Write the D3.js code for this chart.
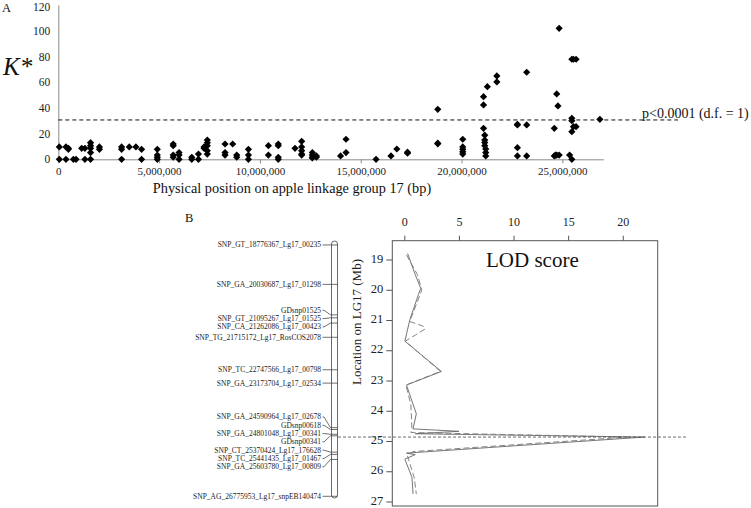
<!DOCTYPE html>
<html><head><meta charset="utf-8">
<script src="https://cdn.jsdelivr.net/npm/d3@7"></script>
<style>
body{margin:0;background:#fff}
svg{display:block;font-family:"Liberation Serif","Times New Roman",serif}
</style>
</head><body>
<svg id="c" width="751" height="508"></svg>
<script>
// ---------- Panel A data: physical position (bp) and K* ----------
const kPos = [
  50000,50000, 380000,380000, 500000,500000, 750000, 880000, 1160000, 1320000,1320000,
  1600000,1600000,1600000,1600000,1600000, 2040000,2040000, 3140000,3140000,3140000,
  3520000, 3850000, 4130000,4130000, 4910000,4910000,4910000,4910000,
  5700000,5700000,5700000,5700000, 5990000,5990000,5990000, 6620000,6620000, 6950000,6950000,
  7230000,7230000, 7390000,7390000,7390000,7390000,7390000, 8270000,8270000,8270000,
  8650000, 8850000,8850000, 9430000,9430000,9430000, 10420000,10420000,
  10910000,10910000,10910000,10910000, 11740000, 12070000,12070000,12070000,12070000,12070000,
  12600000,12600000,12600000,12600000, 12800000,12800000, 14000000, 14270000,14270000,
  15760000, 16500000, 16790000, 17320000,17320000, 18820000,18820000,18820000,
  20060000,20060000,20060000,20060000,20060000, 21090000,21090000,21090000,
  21150000,21150000,21150000,21150000, 21200000,21200000,21200000, 21280000,
  21750000,21750000, 22770000,22770000,22770000,22770000, 23230000,23230000,23230000,
  24600000,24600000, 24660000, 24720000,24720000, 24780000, 24840000,24840000,
  25360000, 25470000,25470000,25470000,25470000,25470000, 25550000,25550000,
  25680000,25680000, 26860000
];
const kVal = [
  9.6,0, 9.6,0, 8.5,7.8, 0, 0, 8.5, 8.5,0,
  12.9,10.6,8.5,5.2,0, 9.6,7.8, 9.6,7.8,0,
  9.6, 9.6, 7.8,0, 7.8,3.3,1.6,0,
  11.9,10.6,3.3,1.6, 5.2,3.3,0, 1.6,0, 4.1,0,
  9.6,8.5, 15,12.9,10.6,6.7,4.1, 11.9,5.2,3.3,
  11.9, 3.3,1.6, 7.8,3.3,0, 10.6,3.3,
  11.9,10.6,1.6,0, 8.5, 14,9.6,6.7,4.1,3.3,
  5.2,3.3,1.6,1.0, 2.6,1.6, 2.6, 15.6,5.2,
  0, 2.6, 8.0, 5.5,4.8, 38.9,12.5,12,
  15.6,9.6,7.8,5.8,4.1, 48.7,42.3,24.1,
  18.8,15,13,10.6, 8,5.2,2.6, 56.5,
  64.8,60.2, 27.2,26.7,9,2.6, 67.7,26.7,2.6,
  2.6,24.1, 3.3, 50.8,3.3, 41.5, 101.9,3.3,
  3.3, 77.8,31.9,30,21.5,0, 77.8,25.4,
  77.8,25.4, 31.1
];
const kThreshold = 30.6;
const kThresholdLabel = "p<0.0001 (d.f. = 1)";
const xTicksA = [0, 5000000, 10000000, 15000000, 20000000, 25000000];
const yTicksA = [0, 20, 40, 60, 80, 100, 120];

// ---------- Panel B data: markers (name, Mb) ----------
const markerNames = [
  "SNP_GT_18776367_Lg17_00235","SNP_GA_20030687_Lg17_01298","GDsnp01525",
  "SNP_GT_21095267_Lg17_01525","SNP_CA_21262086_Lg17_00423","SNP_TG_21715172_Lg17_RosCOS2078",
  "SNP_TC_22747566_Lg17_00798","SNP_GA_23173704_Lg17_02534","SNP_GA_24590964_Lg17_02678",
  "GDsnp00618","SNP_GA_24801048_Lg17_00341","GDsnp00341",
  "SNP_CT_25370424_Lg17_176628","SNP_TC_25441435_Lg17_01467","SNP_GA_25603780_Lg17_00809",
  "SNP_AG_26775953_Lg17_snpEB140474"
];
const markerMb = [18.776, 20.031, 21.0, 21.095, 21.262, 21.715, 22.748, 23.174, 24.591,
  24.65, 24.801, 24.85, 25.370, 25.441, 25.604, 26.776];

// LOD curves (Mb, LOD)
const lodSolidMb  = [18.8,19.5,19.95,20.15,21.0,21.7,22.7,23.15,24.1,24.6,24.68,24.76,24.87,25.4,25.45,25.6,26.2,26.75];
const lodSolidVal = [0.3,1.0,1.5,1.3,0.5,0.05,3.4,0.2,1.1,0.8,5.0,1.0,22.0,0.2,1.0,0.05,0.7,0.8];
const lodDashMb   = [18.85,19.5,20.0,20.2,21.05,21.2,21.3,21.5,21.7,22.7,23.15,23.8,24.6,24.72,24.87,25.35,25.5,26.2,26.75];
const lodDashVal  = [0.2,1.2,1.6,1.4,0.5,1.7,1.9,1.0,0.1,3.3,0.15,0.6,0.7,0.6,20.5,0.8,0.3,0.9,1.1];
const lodPeakMb = 24.87;
const lodXTicks = [0,5,10,15,20];
const lodYTicks = [19,20,21,22,23,24,25,26,27];

const svg = d3.select("#c");
const axisCol = "#8a8a8a";
const serif = '"Liberation Serif","Times New Roman",serif';

// ================= Panel A =================
const xA = d3.scaleLinear().domain([0, 27030000]).range([58.3, 603.3]);
const yA = d3.scaleLinear().domain([0, 120]).range([159.3, 5]);
const gA = svg.append("g");

const xAxA = gA.append("g").attr("transform", `translate(0,${yA(0)})`)
  .call(d3.axisBottom(xA).tickValues(xTicksA).tickSize(4).tickPadding(4)
    .tickFormat(d3.format(",")).tickSizeOuter(0));
xAxA.select(".domain").attr("stroke", axisCol);
xAxA.selectAll(".tick line").attr("stroke", axisCol);
xAxA.selectAll("text").attr("font-size", 11).attr("fill", "#222").attr("font-family", serif);

const yAxA = gA.append("g").attr("transform", `translate(${xA(0)},0)`)
  .call(d3.axisLeft(yA).tickValues(yTicksA).tickSize(0).tickPadding(8).tickSizeOuter(0));
yAxA.select(".domain").attr("stroke", axisCol);
yAxA.selectAll("text").attr("font-size", 11.5).attr("fill", "#222").attr("font-family", serif)
  .attr("dy", d => d === 120 ? "0.47em" : "0.32em");

gA.append("line").attr("x1", xA(0)).attr("x2", 678)
  .attr("y1", yA(kThreshold)).attr("y2", yA(kThreshold))
  .attr("stroke", "#111").attr("stroke-width", 1).attr("stroke-dasharray", "4,3");
gA.append("text").attr("x", 642).attr("y", yA(kThreshold) - 1.5)
  .attr("font-size", 14).attr("fill", "#111").text(kThresholdLabel);

const diamond = d3.symbol().type(d3.symbolSquare).size(26);
gA.append("g").selectAll("path").data(kPos.map((p, i) => [p, kVal[i]])).join("path")
  .attr("d", diamond)
  .attr("transform", d => `translate(${xA(d[0])},${yA(d[1])}) rotate(45)`)
  .attr("fill", "#000");

gA.append("text").attr("x", 292).attr("y", 193).attr("text-anchor", "middle")
  .attr("font-size", 14.3).attr("fill", "#111")
  .text("Physical position on apple linkage group 17 (bp)");
gA.append("text").attr("x", 3).attr("y", 75).attr("font-size", 25)
  .attr("font-style", "italic").attr("fill", "#111").text("K*");
gA.append("text").attr("x", 2).attr("y", 12).attr("font-size", 12.5).attr("fill", "#111").text("A");

// ================= Panel B: chromosome =================
svg.append("text").attr("x", 185).attr("y", 222).attr("font-size", 12.5).attr("fill", "#111").text("B");

const yChr = d3.scaleLinear().domain([18.65, 26.83]).range([241, 498]);
const barX0 = 331.5, barX1 = 337.5;
svg.append("rect").attr("x", barX0).attr("y", yChr(18.65)).attr("width", barX1 - barX0)
  .attr("height", yChr(26.83) - yChr(18.65)).attr("rx", 3).attr("ry", 3)
  .attr("fill", "#fff").attr("stroke", "#444").attr("stroke-width", 0.8);

// label layout: clusters with min gap
function layoutLabels(ys, gap) {
  let groups = ys.map((y, i) => ({ idx: [i], ideal: [y] }));
  const place = g => { g.start = d3.mean(g.ideal) - (g.idx.length - 1) * gap / 2; };
  groups.forEach(place);
  let changed = true;
  while (changed) {
    changed = false;
    for (let i = 0; i < groups.length - 1; i++) {
      const a = groups[i], b = groups[i + 1];
      if (a.start + (a.idx.length - 1) * gap + gap > b.start) {
        const m = { idx: a.idx.concat(b.idx), ideal: a.ideal.concat(b.ideal) };
        place(m); groups.splice(i, 2, m); changed = true; break;
      }
    }
  }
  const out = [];
  groups.forEach(g => g.idx.forEach((id, k) => out[id] = g.start + k * gap));
  return out;
}
const barYs = markerMb.map(m => yChr(m));
const labYs = layoutLabels(barYs, 8.3);
const labEnd = 321;
const gM = svg.append("g");
markerNames.forEach((name, i) => {
  gM.append("text").attr("x", labEnd).attr("y", labYs[i]).attr("dy", "0.33em")
    .attr("text-anchor", "end").attr("font-size", 7.5).attr("fill", "#222").text(name);
  gM.append("path")
    .attr("d", `M${labEnd + 1.5},${labYs[i]} L${labEnd + 3},${labYs[i]} L${barX0 - 1},${barYs[i]} L${barX1},${barYs[i]}`)
    .attr("fill", "none").attr("stroke", "#333").attr("stroke-width", 0.7);
});

// ================= Panel B: LOD =================
const xL = d3.scaleLinear().domain([-1.1, 23.2]).range([392.3, 657.7]);
const yL = d3.scaleLinear().domain([19, 27]).range([259.5, 501.5]);
const frameTop = 240.7, frameBot = 506;

svg.append("rect").attr("x", xL(-1.1)).attr("y", frameTop)
  .attr("width", xL(23.2) - xL(-1.1)).attr("height", frameBot - frameTop)
  .attr("fill", "none").attr("stroke", "#555").attr("stroke-width", 1);

const axT = svg.append("g").attr("transform", `translate(0,${frameTop})`)
  .call(d3.axisTop(xL).tickValues(lodXTicks).tickSize(5).tickPadding(10).tickSizeOuter(0));
axT.select(".domain").remove();
axT.selectAll(".tick line").attr("stroke", "#555");
axT.selectAll("text").attr("font-size", 12).attr("fill", "#222").attr("font-family", serif);

const axL = svg.append("g").attr("transform", `translate(${xL(-1.1)},0)`)
  .call(d3.axisLeft(yL).tickValues(lodYTicks).tickSize(6).tickPadding(3).tickSizeOuter(0));
axL.select(".domain").remove();
axL.selectAll(".tick line").attr("stroke", "#555");
axL.selectAll("text").attr("font-size", 12.5).attr("fill", "#222").attr("dy", "0.2em")
  .attr("font-family", serif);

svg.append("text").attr("transform", `translate(361,322) rotate(-90)`)
  .attr("text-anchor", "middle").attr("font-size", 13).attr("fill", "#222")
  .text("Location on LG17 (Mb)");
svg.append("text").attr("x", 486).attr("y", 267).attr("font-size", 21).attr("fill", "#111").text("LOD score");

const lineL = d3.line().x(d => xL(d[1])).y(d => yL(d[0]));
svg.append("path").attr("d", lineL(lodSolidMb.map((m, i) => [m, lodSolidVal[i]])))
  .attr("fill", "none").attr("stroke", "#666").attr("stroke-width", 0.9);
svg.append("path").attr("d", lineL(lodDashMb.map((m, i) => [m, lodDashVal[i]])))
  .attr("fill", "none").attr("stroke", "#777").attr("stroke-width", 0.9).attr("stroke-dasharray", "6,3");

svg.append("line").attr("x1", barX1 + 0.5).attr("x2", 687)
  .attr("y1", yL(lodPeakMb)).attr("y2", yL(lodPeakMb))
  .attr("stroke", "#444").attr("stroke-width", 0.8).attr("stroke-dasharray", "3,2");
</script>
</body></html>
